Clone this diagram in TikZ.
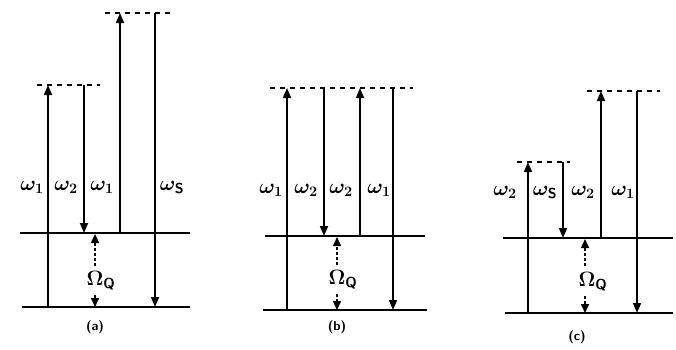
\documentclass[tikz,border=0pt]{standalone}
\usetikzlibrary{arrows.meta}
\begin{document}
\begin{tikzpicture}[x=1pt,y=-1pt,
  level/.style={line width=1.8pt},
  virt/.style={line width=1.6pt, dash pattern=on 5pt off 5pt},
  tr/.style={line width=1.7pt, -{Triangle[length=10pt,width=8pt]}},
  qarr/.style={line width=1.5pt, dash pattern=on 3pt off 2pt, -{Triangle[length=9pt,width=8pt]}},
  lbl/.style={font=\boldmath\fontsize{22}{26}\selectfont, inner sep=0pt},
  qlbl/.style={font=\boldmath\fontsize{22}{26}\selectfont, inner sep=0pt},
  caplbl/.style={font=\sffamily\bfseries\fontsize{13}{15}\selectfont, inner sep=0pt}
]
\path[use as bounding box, fill=white] (0,0) rectangle (676,349);

% ---------- panel (a) ----------
\coordinate (aL1) at (22,307); \coordinate (aL2) at (190,307);
\coordinate (aU1) at (20,233); \coordinate (aU2) at (190,233);
\coordinate (aV1) at (37,85);  \coordinate (aV2) at (100,85);
\coordinate (aW1) at (105,13); \coordinate (aW2) at (172,13);
\draw[level] (aL1) -- (aL2);
\draw[level] (aU1) -- (aU2);
\draw[virt] (aV1) -- (aV2);
\draw[virt] (aW1) -- (aW2);
\coordinate (a1b) at (48,307);  \coordinate (a1t) at (48,85);
\coordinate (a2t) at (84,85);   \coordinate (a2b) at (84,233);
\coordinate (a3b) at (120,233); \coordinate (a3t) at (120,13);
\coordinate (a4t) at (155,13);  \coordinate (a4b) at (155,307);
\draw[tr] (a1b) -- (a1t);
\draw[tr] (a2t) -- (a2b);
\draw[tr] (a3b) -- (a3t);
\draw[tr] (a4t) -- (a4b);
\node[lbl] (la1) at (32,187) {$\omega_1$};
\node[lbl] (la2) at (66,187) {$\omega_2$};
\node[lbl] (la3) at (102,187) {$\omega_1$};
\node[lbl] (la4) at (172,187) {$\omega_{\mathsf{S}}$};
\node[qlbl] (qa) at (101,281) {$\Omega_{\mathsf{Q}}$};
\coordinate (qa1) at (95,266); \coordinate (qa2) at (95,234);
\coordinate (qa3) at (95,295); \coordinate (qa4) at (95,307);
\draw[qarr] (qa1) -- (qa2);
\draw[qarr] (qa3) -- (qa4);
\node[caplbl] (ca) at (95,327) {(a)};

% ---------- panel (b) ----------
\coordinate (bL1) at (263,310); \coordinate (bL2) at (427,310);
\coordinate (bU1) at (265,236); \coordinate (bU2) at (425,236);
\coordinate (bV1) at (270,88);  \coordinate (bV2) at (413,88);
\draw[level] (bL1) -- (bL2);
\draw[level] (bU1) -- (bU2);
\draw[virt] (bV1) -- (bV2);
\coordinate (b1b) at (287,310); \coordinate (b1t) at (287,88);
\coordinate (b2t) at (324,88);  \coordinate (b2b) at (324,236);
\coordinate (b3b) at (360,236); \coordinate (b3t) at (360,88);
\coordinate (b4t) at (393,88);  \coordinate (b4b) at (393,310);
\draw[tr] (b1b) -- (b1t);
\draw[tr] (b2t) -- (b2b);
\draw[tr] (b3b) -- (b3t);
\draw[tr] (b4t) -- (b4b);
\node[lbl] (lb1) at (271,190) {$\omega_1$};
\node[lbl] (lb2) at (306,190) {$\omega_2$};
\node[lbl] (lb3) at (341,190) {$\omega_2$};
\node[lbl] (lb4) at (379,190) {$\omega_1$};
\node[qlbl] (qb) at (343,280) {$\Omega_{\mathsf{Q}}$};
\coordinate (qb1) at (337,265); \coordinate (qb2) at (337,237);
\coordinate (qb3) at (337,294); \coordinate (qb4) at (337,310);
\draw[qarr] (qb1) -- (qb2);
\draw[qarr] (qb3) -- (qb4);
\node[caplbl] (cb) at (337,327) {(b)};

% ---------- panel (c) ----------
\coordinate (cL1) at (505,313); \coordinate (cL2) at (673,313);
\coordinate (cU1) at (503,238); \coordinate (cU2) at (673,238);
\coordinate (cV1) at (517,162); \coordinate (cV2) at (570,162);
\coordinate (cW1) at (587,91);  \coordinate (cW2) at (660,91);
\draw[level] (cL1) -- (cL2);
\draw[level] (cU1) -- (cU2);
\draw[virt] (cV1) -- (cV2);
\draw[virt] (cW1) -- (cW2);
\coordinate (c1b) at (528,313); \coordinate (c1t) at (528,162);
\coordinate (c2t) at (563,162); \coordinate (c2b) at (563,238);
\coordinate (c3b) at (601,238); \coordinate (c3t) at (601,91);
\coordinate (c4t) at (637,91);  \coordinate (c4b) at (637,313);
\draw[tr] (c1b) -- (c1t);
\draw[tr] (c2t) -- (c2b);
\draw[tr] (c3b) -- (c3t);
\draw[tr] (c4t) -- (c4b);
\node[lbl] (lc1) at (505,192) {$\omega_2$};
\node[lbl] (lc2) at (545,192) {$\omega_{\mathsf{S}}$};
\node[lbl] (lc3) at (583,192) {$\omega_2$};
\node[lbl] (lc4) at (623,192) {$\omega_1$};
\node[qlbl] (qc) at (593,282) {$\Omega_{\mathsf{Q}}$};
\coordinate (qc1) at (585,266); \coordinate (qc2) at (585,239);
\coordinate (qc3) at (585,296); \coordinate (qc4) at (585,313);
\draw[qarr] (qc1) -- (qc2);
\draw[qarr] (qc3) -- (qc4);
\node[caplbl] (cc) at (577,337) {(c)};
\end{tikzpicture}
\end{document}
